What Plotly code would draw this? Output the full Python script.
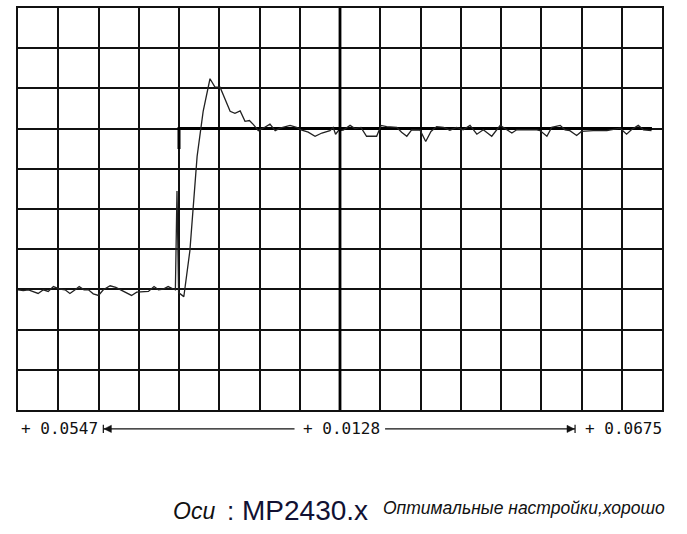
import plotly.graph_objects as go

# Response signal (time in divisions, amplitude in divisions)
t_resp = [0.00, 0.13, 0.26, 0.38, 0.50, 0.63, 0.75, 0.88, 0.96, 1.04, 1.17, 1.29, 1.42, 1.52,
          1.64, 1.75, 1.87, 2.00, 2.12, 2.29, 2.43, 2.58, 2.70, 2.82, 2.95, 3.11, 3.24, 3.38,
          3.49, 3.61, 3.73, 3.86, 3.91, 3.95, 3.99, 4.12, 4.27, 4.45, 4.60, 4.77, 4.89, 5.02,
          5.14, 5.27, 5.39, 5.52, 5.64, 5.75, 5.85, 5.97, 6.09, 6.26, 6.39, 6.51, 6.76, 6.92,
          7.05, 7.21, 7.38, 7.55, 7.75, 7.83, 7.89, 7.96, 8.08, 8.25, 8.37, 8.52, 8.66, 8.91,
          9.02, 9.16, 9.41, 9.53, 9.66, 9.78, 9.99, 10.13, 10.26, 10.40, 10.57, 10.73, 10.90,
          11.06, 11.23, 11.40, 11.56, 11.77, 11.98, 12.10, 12.27, 12.39, 12.89, 12.97, 13.14,
          13.26, 13.47, 13.59, 13.71, 13.88, 14.00, 14.29, 14.63, 14.96, 15.12, 15.24, 15.41,
          15.54, 15.74]
y_resp = [2.99, 2.97, 2.99, 2.95, 2.90, 2.99, 2.95, 3.07, 3.04, 3.01, 2.99, 2.90, 2.99, 3.07,
          2.99, 2.99, 2.89, 2.85, 2.99, 3.09, 3.05, 2.97, 2.90, 2.85, 2.93, 2.95, 2.95, 3.07,
          2.99, 3.01, 3.07, 3.01, 2.99, 5.45, 2.92, 2.82, 3.96, 6.31, 7.43, 8.24, 8.04, 8.03,
          7.76, 7.43, 7.38, 7.44, 7.18, 7.20, 7.10, 6.95, 7.01, 7.11, 6.95, 7.01, 7.08, 7.03,
          6.96, 6.91, 6.81, 6.89, 6.95, 7.03, 6.86, 6.95, 6.96, 7.08, 7.00, 7.03, 6.81, 6.81,
          7.08, 7.05, 7.03, 6.91, 6.81, 6.97, 6.96, 6.68, 6.93, 7.05, 7.03, 6.96, 7.03,
          6.97, 7.08, 6.86, 6.97, 6.81, 7.08, 7.01, 6.89, 6.97, 6.97, 6.95, 6.81,
          7.03, 7.08, 6.97, 6.95, 6.83, 6.93, 6.95, 6.95, 7.01, 6.86, 6.97, 7.08,
          6.97, 6.95]

# Setpoint
t_set = [4.0, 4.0, 15.75]
y_set = [6.49, 7.0, 7.0]

# Scale labels
scale_labels = ["+ 0.0547", "+ 0.0128", "+ 0.0675"]
scale_pos = [0, 7, 14]

fig = go.Figure()
fig.add_trace(go.Scatter(x=t_set, y=y_set, mode="lines",
                         line=dict(color="#000000", width=3), hoverinfo="skip"))
fig.add_trace(go.Scatter(x=t_resp, y=y_resp, mode="lines",
                         line=dict(color="#222222", width=1.3), hoverinfo="skip"))

grid_col = "#111111"
fig.update_xaxes(range=[0, 16], dtick=1, tick0=0, showgrid=True, gridcolor=grid_col, gridwidth=1.6,
                 showticklabels=False, ticks="", zeroline=False, showline=True, linecolor=grid_col,
                 linewidth=1.6, mirror=True, fixedrange=True)
fig.update_yaxes(range=[0, 10], dtick=1, tick0=0, showgrid=True, gridcolor=grid_col, gridwidth=1.6,
                 showticklabels=False, ticks="", zeroline=False, showline=True, linecolor=grid_col,
                 linewidth=1.6, mirror=True, fixedrange=True)

# thick center line
fig.add_shape(type="line", xref="x", yref="paper", x0=8, x1=8, y0=0, y1=1,
              line=dict(color="#000000", width=2.8))

mono = "DejaVu Sans Mono"
ylab = -0.047
for txt, p in zip(scale_labels, scale_pos):
    fig.add_annotation(x=p, y=ylab, xref="x", yref="paper", text=txt, showarrow=False,
                       xanchor="left", yanchor="middle", xshift=1,
                       font=dict(family=mono, size=16, color="#111111"))

# arrow lines
fig.add_shape(type="line", xref="x", yref="paper", x0=2.12, x1=6.87, y0=ylab, y1=ylab,
              line=dict(color="#111111", width=1.2))
fig.add_shape(type="line", xref="x", yref="paper", x0=9.12, x1=13.84, y0=ylab, y1=ylab,
              line=dict(color="#111111", width=1.2))
fig.add_shape(type="line", xref="x", yref="paper", x0=2.12, x1=2.12, y0=ylab - 0.01, y1=ylab + 0.01,
              line=dict(color="#111111", width=1.2))
fig.add_shape(type="line", xref="x", yref="paper", x0=13.84, x1=13.84, y0=ylab - 0.01, y1=ylab + 0.01,
              line=dict(color="#111111", width=1.2))
fig.add_shape(type="path", xref="x", yref="paper",
              path=f"M 2.14 {ylab} L 2.32 {ylab + 0.009} L 2.32 {ylab - 0.009} Z",
              fillcolor="#111111", line=dict(color="#111111", width=0.5))
fig.add_shape(type="path", xref="x", yref="paper",
              path=f"M 13.82 {ylab} L 13.64 {ylab + 0.009} L 13.64 {ylab - 0.009} Z",
              fillcolor="#111111", line=dict(color="#111111", width=0.5))

# title line
yt = -0.25
fig.add_annotation(x=0.237, y=yt, xref="paper", yref="paper", text="<i>Оси</i>", showarrow=False,
                   xanchor="left", yanchor="middle",
                   font=dict(family="Liberation Sans", size=23, color="#111111"))
fig.add_annotation(x=0.322, y=yt, xref="paper", yref="paper", text=":", showarrow=False,
                   xanchor="left", yanchor="middle",
                   font=dict(family="Liberation Sans", size=26, color="#111133"))
fig.add_annotation(x=0.345, y=yt, xref="paper", yref="paper", text="MP2430.x", showarrow=False,
                   xanchor="left", yanchor="middle",
                   font=dict(family="Liberation Sans", size=28, color="#111133"))
fig.add_annotation(x=0.563, y=yt + 0.005, xref="paper", yref="paper",
                   text="<i>Оптимальные настройки,хорошо</i>", showarrow=False,
                   xanchor="left", yanchor="middle",
                   font=dict(family="Liberation Sans", size=17.5, color="#111111"))

fig.update_layout(width=687, height=534, margin=dict(l=18, r=25, t=6, b=124),
                  paper_bgcolor="white", plot_bgcolor="white", showlegend=False)

fig.write_html("out.html", config={"displayModeBar": False},
               post_script="document.body.style.margin='0px';")
